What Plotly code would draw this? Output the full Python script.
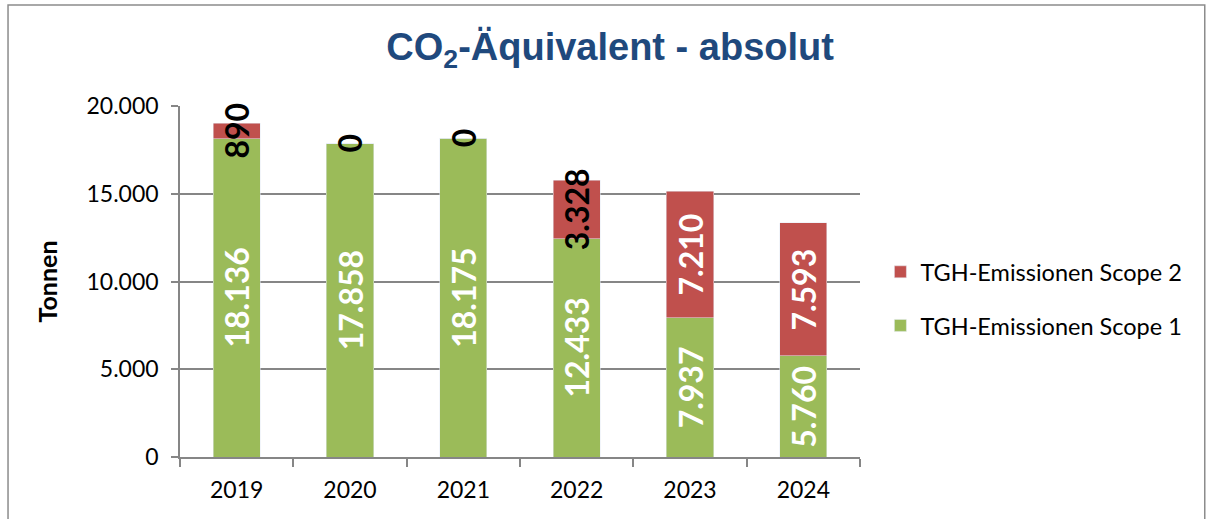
import plotly.graph_objects as go

# data
years = ["2019", "2020", "2021", "2022", "2023", "2024"]
scope1 = [18136, 17858, 18175, 12433, 7937, 5760]
scope2 = [890, 0, 0, 3328, 7210, 7593]
y_ticks = [0, 5000, 10000, 15000, 20000]

green = "#9BBB59"
red = "#C0504D"
grid_gray = "#868686"
label_font = "Lato"


def fmt(v):
    return f"{v:,}".replace(",", ".")


fig = go.Figure()
fig.add_trace(go.Bar(x=years, y=scope1, name="TGH-Emissionen Scope 1",
                     marker_color=green, legendgroup="s1", legendrank=2))
fig.add_trace(go.Bar(x=years, y=scope2, name="TGH-Emissionen Scope 2",
                     marker_color=red, legendgroup="s2", legendrank=1))

# segment labels, rotated and centred in each segment
# (x given as category index: "2019" would be read as index 2019)
for i, (v1, v2) in enumerate(zip(scope1, scope2)):
    fig.add_annotation(x=i, y=v1 / 2, text=fmt(v1), textangle=-90,
                       showarrow=False,
                       font=dict(family=label_font, size=32, color="white",
                                 weight="bold"))
    fig.add_annotation(x=i, y=v1 + v2 / 2, text=fmt(v2), textangle=-90,
                       showarrow=False,
                       font=dict(family=label_font, size=32,
                                 color="black" if v2 < 5000 else "white",
                                 weight="bold"))

# outer chart border
fig.add_shape(type="rect", xref="paper", yref="paper",
              x0=-0.2529, x1=1.507, y0=-0.25, y1=1.2877,
              line=dict(color="#8C8C8C", width=1.5), layer="below")

fig.update_layout(
    width=1213, height=519,
    margin=dict(l=180, r=353, t=106, b=62, autoexpand=False),
    barmode="stack", bargap=0.585,
    separators=",.",
    plot_bgcolor="white", paper_bgcolor="white",
    font=dict(family=label_font, size=23, color="black"),
    title=dict(text="CO<sub>2</sub>-Äquivalent - absolut",
               x=0.503, xref="container", xanchor="center",
               y=0.91, yref="container", yanchor="middle",
               font=dict(family="Liberation Sans", size=38,
                         color="#1F497D", weight="bold")),
    legend=dict(x=1.03, xanchor="left", y=0.45, yanchor="middle",
                traceorder="grouped", tracegroupgap=20,
                font=dict(size=23.5)),
    showlegend=True,
)
fig.update_yaxes(range=[0, 20000], tickvals=y_ticks, tickformat=",d",
                 showgrid=True, gridcolor=grid_gray, gridwidth=1.5,
                 showline=True, linecolor=grid_gray, linewidth=1.5,
                 ticks="outside", ticklen=7, tickcolor=grid_gray,
                 tickwidth=1.5, zeroline=False, automargin=False,
                 ticklabelstandoff=8,
                 title=dict(text="Tonnen", standoff=22,
                            font=dict(size=25, weight="bold")))
fig.update_xaxes(type="category", range=[-0.5, len(years) - 0.5],
                 showline=True, linecolor=grid_gray,
                 linewidth=1.5, automargin=False,
                 ticks="outside", tickson="boundaries", ticklen=8,
                 tickcolor=grid_gray, tickwidth=1.5,
                 ticklabelstandoff=12)

fig.write_html("out.html", config={"displayModeBar": False},
               post_script="document.body.style.margin='0';")
